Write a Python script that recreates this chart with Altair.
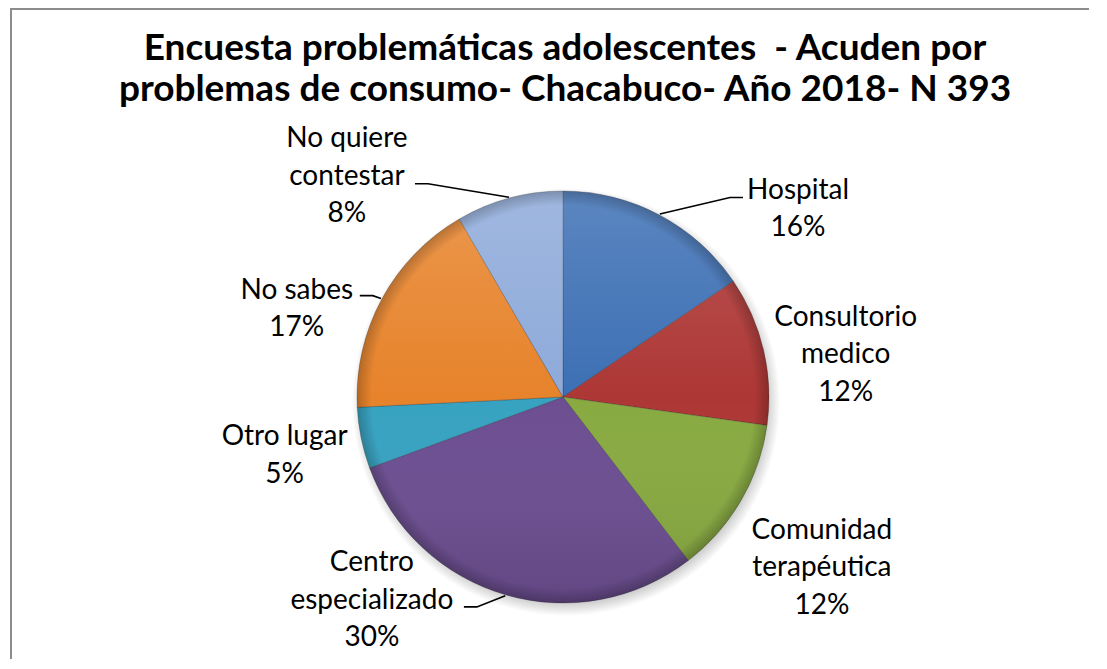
import math
import altair as alt
import pandas as pd

# ---------------- data ----------------
categories = ["Hospital", "Consultorio\nmedico", "Comunidad\nterapéutica",
              "Centro\nespecializado", "Otro lugar", "No sabes", "No quiere\ncontestar"]
percent = [15.5, 11.7, 12.4, 29.8, 4.8, 17.4, 8.4]
title_lines = ["Encuesta problemáticas adolescentes\u00a0 - Acuden por",
               "problemas de consumo- Chacabuco- Año 2018- N 393"]

# ---------------- style / layout (page pixels) ----------------
colors = ["#3C6FB4", "#AD3735", "#88AA41", "#6C4E91", "#37A2C1", "#E7832B", "#8EAADA"]
W, H = 1085, 653          # svg size, origin at page (8, 8)
OX, OY = 8, 8
CX, CY, R = 563, 397, 206  # pie centre and radius
LABEL_R = 280
label_nudge = [(104, 60), (10, 22), (17, 30), (-113, -65), (-4, 3), (-20, 46), (-143, 50)]
# leader line end point relative to label centre (None = no leader)
leader_end = [(-55, -12), None, None, (92, 6), None, (63, -14), (68, 7)]
LABEL_FONT = "Lato"
LABEL_SIZE = 28
LINE_H = 37.5

# ---------------- tables ----------------
rows, lead_rows = [], []
start = 0.0
for i, (c, p) in enumerate(zip(categories, percent)):
    mid = (start + p / 2) / 100 * 2 * math.pi
    start += p
    lx = CX + LABEL_R * math.sin(mid) + label_nudge[i][0]
    ly = CY - LABEL_R * math.cos(mid) + label_nudge[i][1]
    text = f"{c}\n{round(p)}%"
    n = text.count("\n") + 1
    rows.append({"idx": i, "cat": c, "pct": p, "label": text,
                 "lx": lx, "ly": ly - (n - 1) * LINE_H / 2})
    if leader_end[i] is not None:
        ex, ey = lx + leader_end[i][0], ly + leader_end[i][1]
        sx, sy = CX + (R + 1) * math.sin(mid), CY - (R + 1) * math.cos(mid)
        bx = ex + (13 if ex < sx else -13)
        for k, (px, py) in enumerate([(sx, sy), (bx, ey), (ex, ey)]):
            lead_rows.append({"cat": c, "k": k, "x": px, "y": py})

df = pd.DataFrame(rows)
lead = pd.DataFrame(lead_rows)
one = pd.DataFrame({"a": [0]})

xs = alt.Scale(domain=[OX, OX + W], nice=False, zero=False)
ys = alt.Scale(domain=[OY, OY + H], nice=False, zero=False, reverse=True)

base = alt.Chart(df)

# soft shadow under the pie
shadow = alt.Chart(one).mark_arc(
    radius=R + 8,
    fill=alt.RadialGradient(
        gradient="radial", x1=0.5, y1=0.5, r1=0, x2=0.5, y2=0.5, r2=0.5,
        stops=[alt.GradientStop(offset=0, color="rgba(0,0,0,0.25)"),
               alt.GradientStop(offset=0.93, color="rgba(0,0,0,0.22)"),
               alt.GradientStop(offset=1, color="rgba(0,0,0,0)")]),
).encode(theta=alt.value(0), theta2=alt.value(2 * math.pi),
         x=alt.value(CX - OX + 3), y=alt.value(CY - OY + 5))

pie = base.mark_arc(radius=R, stroke="#2b2b2b", strokeWidth=0.8, strokeOpacity=0.35).encode(
    theta=alt.Theta("pct:Q", stack=True),
    color=alt.Color("cat:N", scale=alt.Scale(domain=categories, range=colors), legend=None),
    order=alt.Order("idx:Q"),
    x=alt.value(CX - OX), y=alt.value(CY - OY),
)

# lighting: lighter at the top, darker at the bottom
light = alt.Chart(one).mark_arc(
    radius=R,
    fill=alt.LinearGradient(
        gradient="linear", x1=0, y1=0, x2=0, y2=1,
        stops=[alt.GradientStop(offset=0, color="rgba(255,255,255,0.16)"),
               alt.GradientStop(offset=0.5, color="rgba(255,255,255,0)"),
               alt.GradientStop(offset=1, color="rgba(0,0,0,0.10)")]),
).encode(theta=alt.value(0), theta2=alt.value(2 * math.pi),
         x=alt.value(CX - OX), y=alt.value(CY - OY))

# bevel: darker rim
rim = alt.Chart(one).mark_arc(
    radius=R,
    fill=alt.RadialGradient(
        gradient="radial", x1=0.5, y1=0.5, r1=0, x2=0.5, y2=0.5, r2=0.5,
        stops=[alt.GradientStop(offset=0, color="rgba(0,0,0,0)"),
               alt.GradientStop(offset=0.93, color="rgba(0,0,0,0)"),
               alt.GradientStop(offset=1, color="rgba(0,0,0,0.22)")]),
).encode(theta=alt.value(0), theta2=alt.value(2 * math.pi),
         x=alt.value(CX - OX), y=alt.value(CY - OY))

labels = base.mark_text(font=LABEL_FONT, fontSize=LABEL_SIZE, color="#000000",
                        lineBreak="\n", lineHeight=LINE_H, align="center",
                        baseline="middle").encode(
    x=alt.X("lx:Q", scale=xs, axis=None),
    y=alt.Y("ly:Q", scale=ys, axis=None),
    text="label:N",
)

leaders = alt.Chart(lead).mark_line(color="#000000", strokeWidth=1.6).encode(
    x=alt.X("x:Q", scale=xs, axis=None),
    y=alt.Y("y:Q", scale=ys, axis=None),
    detail="cat:N",
    order="k:Q",
)

title = alt.Chart(pd.DataFrame({"t": ["\n".join(title_lines)]})).mark_text(
    font=LABEL_FONT, fontSize=37, fontWeight="bold", color="#000000",
    lineBreak="\n", lineHeight=41, align="center", baseline="alphabetic",
).encode(x=alt.value(565 - OX), y=alt.value(60 - OY), text="t:N")

# chart-area frame (top and left edges; right and bottom lie outside the picture)
frame = alt.Chart(pd.DataFrame({
    "k": [0, 1, 2],
    "fx": [OX + W - 4, 11, 11],
    "fy": [9, 9, OY + H - 2],
})).mark_line(color="#8C8C8C", strokeWidth=2).encode(
    x=alt.X("fx:Q", scale=xs, axis=None),
    y=alt.Y("fy:Q", scale=ys, axis=None),
    order="k:Q",
)

chart = alt.layer(frame, shadow, pie, light, rim, leaders, labels, title).properties(
    width=W, height=H,
    autosize=alt.AutoSizeParams(type="none"),
    padding=0,
).configure_view(strokeWidth=0)

chart.save("out.html", embed_options={"renderer": "svg", "actions": False})
